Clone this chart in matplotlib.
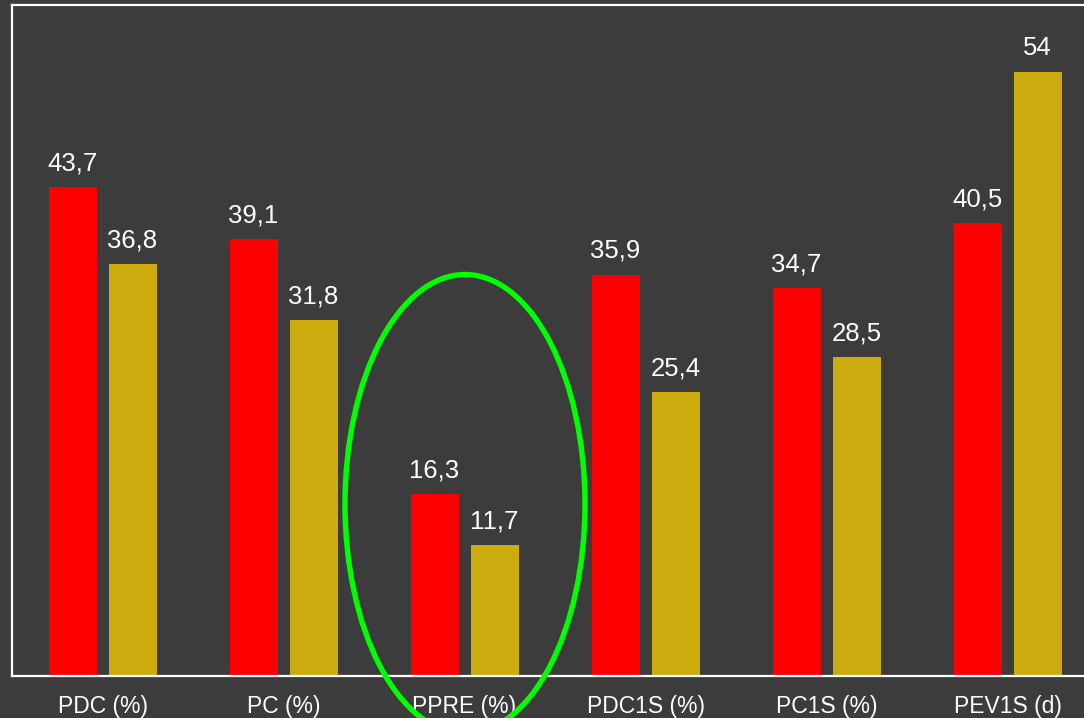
import numpy as np
import matplotlib.pyplot as plt
from matplotlib.patches import Ellipse

plt.rcParams['font.family'] = ['Liberation Sans', 'DejaVu Sans']

categories = ['PDC (%)', 'PC (%)', 'PPRE (%)', 'PDC1S (%)', 'PC1S (%)', 'PEV1S (d)']
red_vals = [43.7, 39.1, 16.3, 35.9, 34.7, 40.5]
gold_vals = [36.8, 31.8, 11.7, 25.4, 28.5, 54]

bg = '#3c3c3c'


def fmt(v):
    s = f'{v:g}'
    return s.replace('.', ',')


fig = plt.figure(figsize=[10.84, 7.18], dpi=100, facecolor=bg)
# axes run past the right edge of the figure on purpose
ax = fig.add_axes([12 / 1084, (718 - 676) / 718, 1086 / 1084, 671 / 718])
ax.set_facecolor(bg)

x = np.arange(len(categories))
w = 48 / 181
off = 30 / 181
b1 = ax.bar(x - off, red_vals, w, color='#ff0000')
b2 = ax.bar(x + off, gold_vals, w, color='#cbab0d')

for bars, vals in ((b1, red_vals), (b2, gold_vals)):
    for b, v in zip(bars, vals):
        ax.annotate(fmt(v), (b.get_x() + b.get_width() / 2, v),
                    xytext=(0, 12), textcoords='offset points',
                    ha='center', va='baseline', color='white', fontsize=18.5)

ax.set_xlim(-0.5, 5.5)
ax.set_ylim(0, 60)
ax.set_xticks(x)
ax.set_xticklabels(categories, color='white', fontsize=16.5)
ax.tick_params(axis='x', length=0, pad=14)
ax.set_yticks([])
for s in ax.spines.values():
    s.set_color('white')
    s.set_linewidth(1.6)

# highlight around the PPRE group
ell = Ellipse((465 / 1084, 1 - 504 / 718), 240 / 1084, 459 / 718,
              transform=fig.transFigure, fill=False, edgecolor='#00ff00',
              linewidth=3.9, clip_on=False)
fig.add_artist(ell)

plt.savefig('out.png', dpi=100, facecolor=bg)
plt.close()
